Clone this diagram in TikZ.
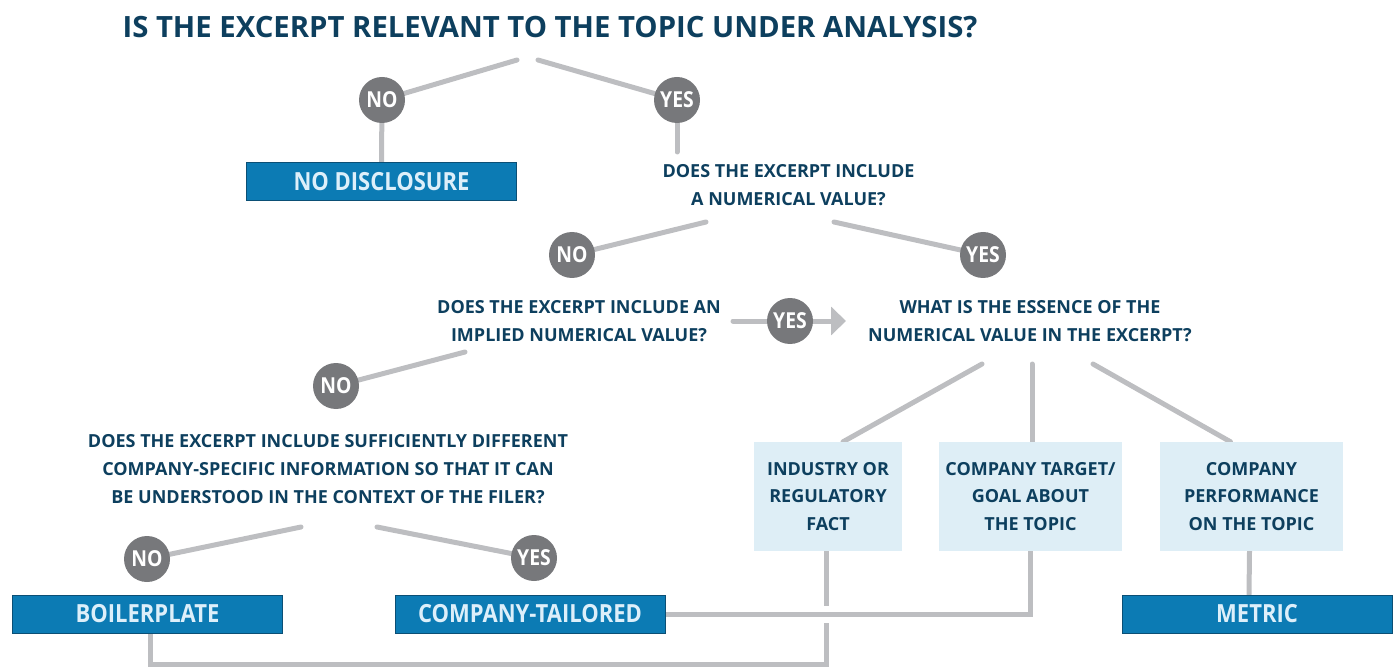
\documentclass[tikz,border=0pt]{standalone}
\usepackage{fontspec}
\setmainfont{Open Sans}
\newfontfamily\condfont[FakeStretch=0.88]{Open Sans}
\usetikzlibrary{arrows.meta,calc,backgrounds}

\definecolor{navy}{HTML}{0D3F5E}
\definecolor{linegray}{HTML}{BDBEC1}
\definecolor{dotgray}{HTML}{77787B}
\definecolor{boxblue}{HTML}{0C7BB4}
\definecolor{boxedge}{HTML}{0B4F75}
\definecolor{boxtext}{HTML}{DDEFFA}
\definecolor{paleblue}{HTML}{DEEEF6}

\begin{document}
\begin{tikzpicture}[x=1pt,y=-1pt,
  heading/.style={text=navy, inner sep=0, font=\bfseries\fontsize{29.3}{32}\selectfont},
  question/.style={text=navy, align=center, inner sep=0, font=\bfseries\fontsize{18}{28}\selectfont},
  answer/.style={circle, fill=dotgray, minimum size=46pt, inner sep=0, text=white,
                 font=\condfont\bfseries\fontsize{22}{22}\selectfont},
  outcome/.style={fill=boxblue, draw=boxedge, line width=0.8pt, minimum width=270pt,
                  minimum height=38pt, inner sep=0, text=boxtext,
                  font=\condfont\bfseries\fontsize{25}{25}\selectfont},
  category/.style={fill=paleblue, minimum height=109pt, inner sep=0, text=navy, align=center,
                   font=\bfseries\fontsize{18}{27.5}\selectfont},
  conn/.style={draw=linegray, line width=5pt, line cap=round},
  bridge/.style={preaction={draw=white, line width=17pt}}
]
\useasboundingbox (0,0) rectangle (1397,668);

% questions
\node[heading]  (title) at (550,27) {IS THE EXCERPT RELEVANT TO THE TOPIC UNDER ANALYSIS?};
\node[question] (qnum)  at (788.5,185.5) {DOES THE EXCERPT INCLUDE\\A NUMERICAL VALUE?};
\node[question] (qimp)  at (579,321) {DOES THE EXCERPT INCLUDE AN\\IMPLIED NUMERICAL VALUE?};
\node[question] (qess)  at (1030,321.5) {WHAT IS THE ESSENCE OF THE\\NUMERICAL VALUE IN THE EXCERPT?};
\node[question] (qspec) at (328,469) {DOES THE EXCERPT INCLUDE SUFFICIENTLY DIFFERENT\\COMPANY-SPECIFIC INFORMATION SO THAT IT CAN\\BE UNDERSTOOD IN THE CONTEXT OF THE FILER?};

% answers
\node[answer] (noA)   at (382,100) {NO};
\node[answer] (yesA)  at (677,100) {YES};
\node[answer] (noB)   at (572,255) {NO};
\node[answer] (yesB)  at (983,255) {YES};
\node[answer] (yesC)  at (790,321) {YES};
\node[answer] (noC)   at (336,386) {NO};
\node[answer] (noD)   at (147,559) {NO};
\node[answer] (yesD)  at (534,558) {YES};

% outcomes
\node[outcome] (nodisc) at (381.5,181.5) {NO DISCLOSURE};
\node[outcome] (boiler) at (147.5,614) {BOILERPLATE};
\node[outcome] (tailor) at (530,614) {COMPANY-TAILORED};
\node[outcome] (metric) at (1257,614) {METRIC};

% categories of numerical value
\node[category, minimum width=148pt] (industry) at (828,496.5) {INDUSTRY OR\\REGULATORY\\FACT};
\node[category, minimum width=183pt] (target)   at (1030.5,496.5) {COMPANY TARGET/\\GOAL ABOUT\\THE TOPIC};
\node[category, minimum width=183pt] (perf)     at (1251.5,496.5) {COMPANY\\PERFORMANCE\\ON THE TOPIC};

% free ends of the connectors
\coordinate (relL)  at (517,60);
\coordinate (relR)  at (538,60);
\coordinate (yesAe) at (677,152);
\coordinate (numL)  at (706,222);
\coordinate (numR)  at (834,222);
\coordinate (impS)  at (733,321);
\coordinate (impT)  at (846,321);
\coordinate (impN)  at (465,352);
\coordinate (specL) at (301,527);
\coordinate (specR) at (377,527);
\coordinate (essL)  at (982,364);
\coordinate (essM)  at (1032,364);
\coordinate (essR)  at (1093,364);

\begin{pgfonlayer}{background}
  \draw[conn] (relL) -- (noA.center);
  \draw[conn] (relR) -- (yesA.center);
  \draw[conn] (noA.center) -- (nodisc.north);
  \draw[conn] (yesA.center) -- (yesAe);
  \draw[conn] (numL) -- (noB.center);
  \draw[conn] (numR) -- (yesB.center);
  \draw[conn, -{Triangle[length=15pt,width=28pt]}] (impS) -- (impT);
  \draw[conn] (impN) -- (noC.center);
  \draw[conn] (specL) -- (noD.center);
  \draw[conn] (specR) -- (yesD.center);
  \draw[conn] (essL) -- ($(industry.north)+(15,0)$);
  \draw[conn] (essM) -- (essM |- target.north);
  \draw[conn] (essR) -- ($(perf.north)+(-21,0)$);
  \draw[conn] ($(perf.south)+(-2,0)$) -- ($(metric.north)+(-8,0)$);
  % industry fact joins boilerplate, passing under the tailored line
  \draw[conn, line cap=butt] ($(boiler.south)+(2.5,0)$) |- ($(industry.south)+(-2,113)$) -- ($(industry.south)+(-2,0)$);
  \draw[conn, bridge] (tailor.east) -| (target.south);
\end{pgfonlayer}
\end{tikzpicture}
\end{document}
